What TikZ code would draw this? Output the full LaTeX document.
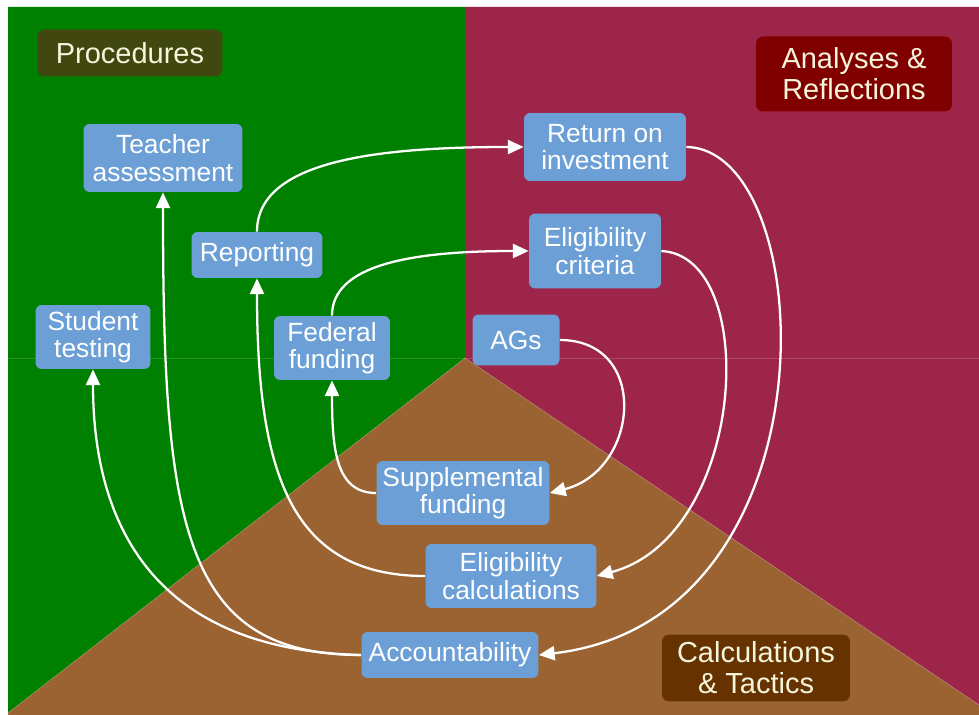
\documentclass[tikz,border=0pt]{standalone}
\usepackage{fontspec}
\setmainfont{Liberation Sans}
\usetikzlibrary{arrows.meta}
\definecolor{procgreen}{RGB}{0,128,0}
\definecolor{analmaroon}{RGB}{158,37,74}
\definecolor{calcbrown}{RGB}{155,99,50}
\definecolor{itemblue}{RGB}{107,159,213}
\definecolor{procdark}{RGB}{64,72,16}
\definecolor{analdark}{RGB}{128,0,0}
\definecolor{calcdark}{RGB}{102,51,0}
\definecolor{labeltext}{RGB}{245,245,220}
\tikzset{
  item/.style={
    rectangle,
    rounded corners=3.5pt,
    fill=itemblue,
    text=white,
    align=center,
    font=\fontsize{15}{15.5}\selectfont,
    inner sep=0pt,
  },
  area/.style={
    rectangle,
    rounded corners=4pt,
    text=labeltext,
    align=center,
    font=\fontsize{16.5}{17.5}\selectfont,
    inner sep=0pt,
  },
  boxsize/.style 2 args={minimum width=#1cm, minimum height=#2cm},
  flow/.style={white, line width=1.3pt, -{Triangle[length=9pt,width=8pt]}},
  seam/.style={white, opacity=0.15, line width=0.5pt},
}

\begin{document}
\begin{tikzpicture}[x=0.02cm, y=-0.02cm]
  \useasboundingbox (0,0) rectangle (979,715);
  \fill[white] (0,0) rectangle (979,715);
  % three areas
  \fill[procgreen] (8,7) -- (465,7) -- (465,358) -- (8,713) -- cycle;
  \fill[analmaroon] (465,7) -- (979,7) -- (979,705) -- (465,358) -- cycle;
  \fill[calcbrown] (465,358) -- (979,705) -- (979,715) -- (8,715) -- (8,713) -- cycle;
  \draw[seam] (8,358) -- (979,358);
  \draw[seam] (8,713) -- (465,358) -- (979,705);

  % area labels
  \node[area, fill=procdark, boxsize={3.7}{0.94}] (proc) at (130,53) {Procedures};
  \node[area, fill=analdark, boxsize={3.92}{1.5}] (anal) at (854,74) {Analyses \&\\Reflections};
  \node[area, fill=calcdark, boxsize={3.76}{1.34}] (calc) at (756,668) {Calculations\\\& Tactics};

  % items
  \node[item, boxsize={3.18}{1.36}] (tea) at (163,158) {Teacher\\assessment};
  \node[item, boxsize={2.62}{0.92}] (rep) at (257,255) {Reporting};
  \node[item, boxsize={2.3}{1.28}]  (stu) at (93,337)  {Student\\testing};
  \node[item, boxsize={2.32}{1.28}] (fed) at (332,348) {Federal\\funding};
  \node[item, boxsize={3.24}{1.36}] (roi) at (605,147) {Return on\\investment};
  \node[item, boxsize={2.64}{1.5}]  (elc) at (595,251) {Eligibility\\criteria};
  \node[item, boxsize={1.74}{1.02}] (ags) at (516,340) {AGs};
  \node[item, boxsize={3.46}{1.28}] (sup) at (463,493) {Supplemental\\funding};
  \node[item, boxsize={3.42}{1.28}] (ecal) at (511,576) {Eligibility\\calculations};
  \node[item, boxsize={3.54}{0.92}] (acc) at (450,655) {Accountability};

  % connectors
  \draw[flow] (rep.north) .. controls +(0,-70) and +(-150,0) .. (roi.west);
  \draw[flow] (fed.north) .. controls +(0,-50) and +(-120,0) .. (elc.west);
  \draw[flow] (ags.east) .. controls +(90,0) and +(90,-23) .. (sup.east);
  \draw[flow] (elc.east) .. controls +(100,5) and +(150,-40) .. (ecal.east);
  \draw[flow] (roi.east) .. controls +(134,2) and +(302,-35) .. (acc.east);
  \draw[flow] (sup.west) .. controls +(-40,0) and +(0,70) .. (fed.south);
  \draw[flow] (ecal.west) .. controls +(-136,0) and +(0,192) .. (rep.south);
  \draw[flow] (acc.west) .. controls +(-181,0) and +(0,328) .. (tea.south);
  \draw[flow] (acc.west) .. controls +(-211,-5) and +(0,151) .. (stu.south);
\end{tikzpicture}
\end{document}
